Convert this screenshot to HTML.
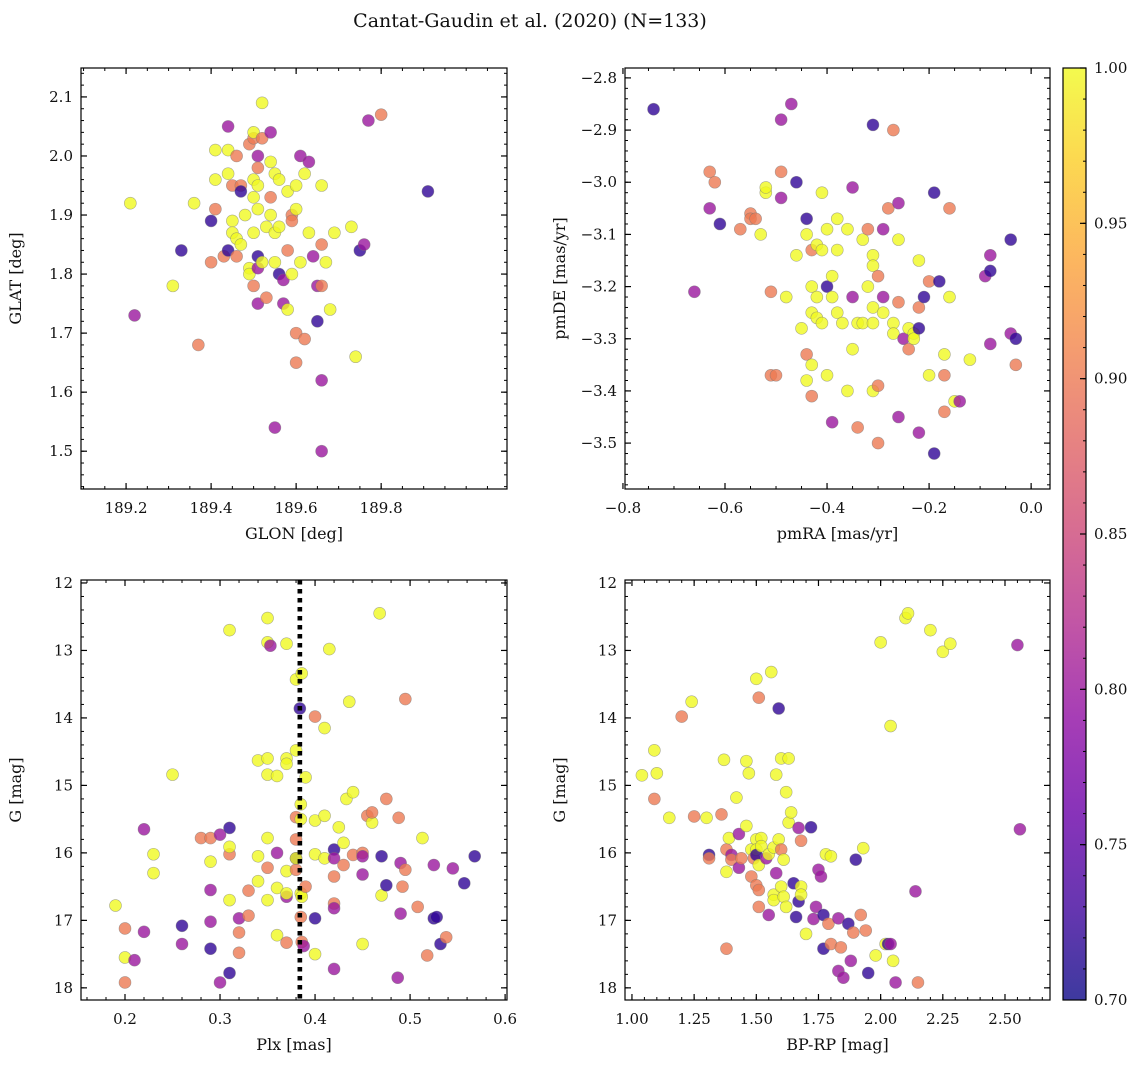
<!DOCTYPE html>
<html><head><meta charset="utf-8"><style>
body{margin:0;background:#fff;}
svg text{font-family:"DejaVu Serif","Liberation Serif",serif;fill:#111;}
</style></head><body>
<svg id="fig" width="1148" height="1067" xmlns="http://www.w3.org/2000/svg">
<defs>
<linearGradient id="plasma" x1="0" y1="1" x2="0" y2="0">
<stop offset="0" stop-color="#0d0887"/><stop offset="0.1" stop-color="#41049d"/><stop offset="0.2" stop-color="#6a00a8"/><stop offset="0.3" stop-color="#8f0da4"/><stop offset="0.4" stop-color="#b12a90"/><stop offset="0.5" stop-color="#cc4778"/><stop offset="0.6" stop-color="#e16462"/><stop offset="0.7" stop-color="#f2844b"/><stop offset="0.8" stop-color="#fca636"/><stop offset="0.9" stop-color="#fcce25"/><stop offset="1" stop-color="#f0f921"/>
</linearGradient>
</defs>
<text x="530" y="27" text-anchor="middle" font-size="19">Cantat-Gaudin et al. (2020) (N=133)</text>
</svg>
<script>
const Y=1,O=0.9,M=0.8,D=0.72;
const panel1Points=[[189.21,1.92,Y],[189.22,1.73,M],[189.31,1.78,Y],[189.33,1.84,D],[189.36,1.92,Y],[189.37,1.68,O],[189.40,1.89,D],[189.40,1.82,O],[189.41,2.01,Y],[189.41,1.96,Y],[189.41,1.91,O],[189.43,1.83,O],[189.44,2.05,M],[189.44,1.97,Y],[189.44,2.01,Y],[189.44,1.84,D],[189.45,1.95,O],[189.45,1.89,Y],[189.45,1.87,Y],[189.46,2.00,O],[189.46,1.86,Y],[189.46,1.83,O],[189.47,1.95,O],[189.47,1.94,D],[189.47,1.85,Y],[189.48,1.90,Y],[189.49,2.02,O],[189.49,1.81,Y],[189.49,1.80,Y],[189.50,2.03,O],[189.50,2.04,Y],[189.50,1.96,Y],[189.50,1.93,Y],[189.50,1.87,Y],[189.50,1.78,O],[189.51,2.00,M],[189.51,1.98,O],[189.51,1.95,Y],[189.51,1.91,Y],[189.51,1.83,D],[189.51,1.81,M],[189.51,1.75,M],[189.52,2.09,Y],[189.52,2.03,O],[189.52,1.82,Y],[189.53,1.88,Y],[189.53,1.76,O],[189.54,2.04,M],[189.54,1.99,Y],[189.54,1.93,O],[189.54,1.90,Y],[189.55,1.97,Y],[189.55,1.87,Y],[189.55,1.82,Y],[189.55,1.54,M],[189.56,1.96,Y],[189.56,1.88,Y],[189.56,1.80,D],[189.57,1.79,M],[189.57,1.75,M],[189.58,1.94,Y],[189.58,1.84,O],[189.58,1.74,Y],[189.59,1.90,O],[189.59,1.89,O],[189.59,1.80,Y],[189.60,1.95,Y],[189.60,1.91,Y],[189.60,1.70,O],[189.60,1.65,O],[189.61,2.00,M],[189.61,1.82,Y],[189.62,1.97,Y],[189.62,1.69,O],[189.63,1.99,M],[189.63,1.87,Y],[189.64,1.83,M],[189.65,1.78,M],[189.65,1.72,D],[189.66,1.85,O],[189.66,1.78,O],[189.66,1.62,M],[189.66,1.50,M],[189.66,1.95,Y],[189.67,1.82,Y],[189.68,1.74,Y],[189.69,1.87,Y],[189.73,1.88,Y],[189.74,1.66,Y],[189.75,1.84,D],[189.76,1.85,M],[189.77,2.06,M],[189.80,2.07,O],[189.91,1.94,D]];
const panel2Points=[[-0.74,-2.86,D],[-0.66,-3.21,M],[-0.63,-2.98,O],[-0.63,-3.05,M],[-0.62,-3.00,O],[-0.61,-3.08,D],[-0.57,-3.09,O],[-0.55,-3.06,O],[-0.55,-3.07,O],[-0.54,-3.07,O],[-0.53,-3.10,Y],[-0.52,-3.02,Y],[-0.52,-3.01,Y],[-0.51,-3.21,O],[-0.51,-3.37,O],[-0.50,-3.37,O],[-0.49,-2.88,M],[-0.49,-2.98,O],[-0.49,-3.03,M],[-0.48,-3.22,Y],[-0.47,-2.85,M],[-0.46,-3.00,D],[-0.46,-3.14,Y],[-0.45,-3.28,Y],[-0.44,-3.07,D],[-0.44,-3.10,Y],[-0.44,-3.33,O],[-0.44,-3.38,Y],[-0.43,-3.13,O],[-0.43,-3.20,Y],[-0.43,-3.25,Y],[-0.43,-3.35,Y],[-0.43,-3.41,O],[-0.42,-3.12,Y],[-0.42,-3.22,Y],[-0.42,-3.26,Y],[-0.41,-3.02,Y],[-0.41,-3.13,Y],[-0.41,-3.27,Y],[-0.40,-3.09,Y],[-0.40,-3.37,Y],[-0.40,-3.20,D],[-0.39,-3.18,Y],[-0.39,-3.22,Y],[-0.39,-3.46,M],[-0.38,-3.07,Y],[-0.38,-3.13,Y],[-0.38,-3.25,Y],[-0.37,-3.27,Y],[-0.36,-3.09,Y],[-0.36,-3.40,Y],[-0.35,-3.01,M],[-0.35,-3.22,M],[-0.35,-3.32,Y],[-0.34,-3.27,Y],[-0.34,-3.47,O],[-0.33,-3.27,Y],[-0.33,-3.11,Y],[-0.32,-3.09,O],[-0.32,-3.20,Y],[-0.31,-2.89,D],[-0.31,-3.14,Y],[-0.31,-3.16,Y],[-0.31,-3.24,Y],[-0.31,-3.27,Y],[-0.31,-3.40,Y],[-0.30,-3.50,O],[-0.30,-3.39,O],[-0.30,-3.18,O],[-0.29,-3.22,M],[-0.29,-3.25,Y],[-0.29,-3.09,M],[-0.28,-3.05,O],[-0.27,-2.90,O],[-0.27,-3.27,Y],[-0.27,-3.29,Y],[-0.26,-3.04,M],[-0.26,-3.11,Y],[-0.26,-3.23,O],[-0.26,-3.45,M],[-0.25,-3.30,M],[-0.24,-3.28,Y],[-0.24,-3.32,O],[-0.23,-3.29,Y],[-0.23,-3.30,Y],[-0.22,-3.15,Y],[-0.22,-3.24,O],[-0.22,-3.28,D],[-0.22,-3.48,M],[-0.21,-3.22,D],[-0.20,-3.19,O],[-0.20,-3.37,Y],[-0.19,-3.02,D],[-0.18,-3.19,D],[-0.17,-3.44,O],[-0.17,-3.33,Y],[-0.17,-3.37,O],[-0.16,-3.05,O],[-0.16,-3.22,Y],[-0.15,-3.42,Y],[-0.14,-3.42,M],[-0.12,-3.34,Y],[-0.09,-3.18,M],[-0.08,-3.14,M],[-0.08,-3.17,D],[-0.08,-3.31,M],[-0.04,-3.29,M],[-0.04,-3.11,D],[-0.03,-3.30,D],[-0.03,-3.35,O],[-0.19,-3.52,D]];
const panel3Points=[[0.19,16.78,Y],[0.20,17.55,Y],[0.20,17.12,O],[0.20,17.92,O],[0.21,17.59,M],[0.22,17.17,M],[0.22,15.65,M],[0.23,16.02,Y],[0.23,16.30,Y],[0.25,14.84,Y],[0.26,17.08,D],[0.26,17.35,M],[0.28,15.78,O],[0.29,17.42,D],[0.29,16.13,Y],[0.29,16.55,M],[0.29,17.02,M],[0.29,15.78,O],[0.30,15.73,M],[0.30,17.92,M],[0.31,16.02,O],[0.31,15.91,Y],[0.31,16.70,Y],[0.31,15.63,D],[0.31,17.78,D],[0.31,12.70,Y],[0.32,17.48,O],[0.32,16.97,M],[0.32,17.18,O],[0.33,16.93,O],[0.33,16.56,O],[0.34,14.63,Y],[0.34,16.05,Y],[0.34,16.42,Y],[0.35,12.52,Y],[0.35,12.88,Y],[0.353,12.93,M],[0.35,14.60,Y],[0.35,14.84,Y],[0.35,15.78,Y],[0.35,16.22,O],[0.35,16.70,Y],[0.36,14.86,Y],[0.36,16.00,M],[0.36,16.52,Y],[0.36,17.22,Y],[0.37,12.90,Y],[0.37,14.60,Y],[0.37,16.27,Y],[0.37,16.65,M],[0.37,17.33,O],[0.37,16.60,Y],[0.37,14.68,Y],[0.38,13.43,Y],[0.38,14.48,Y],[0.38,15.47,O],[0.38,15.80,O],[0.38,16.25,O],[0.38,16.08,D],[0.384,13.86,D],[0.38,16.08,Y],[0.386,13.34,Y],[0.385,15.28,Y],[0.385,15.50,Y],[0.385,16.60,Y],[0.386,16.65,Y],[0.385,16.95,O],[0.386,17.32,O],[0.388,17.38,M],[0.39,14.88,Y],[0.39,16.50,O],[0.40,13.98,O],[0.40,15.52,Y],[0.40,16.02,Y],[0.40,16.97,D],[0.40,17.50,Y],[0.41,14.15,Y],[0.41,16.08,Y],[0.41,15.45,Y],[0.415,12.98,Y],[0.42,15.95,D],[0.42,16.08,M],[0.42,16.35,O],[0.42,16.75,O],[0.42,16.82,M],[0.42,17.72,M],[0.425,15.62,Y],[0.43,15.85,Y],[0.43,16.18,O],[0.433,15.20,Y],[0.44,16.03,O],[0.436,13.76,Y],[0.44,15.10,Y],[0.45,16.00,O],[0.45,16.05,M],[0.45,16.32,M],[0.45,17.35,Y],[0.455,15.45,O],[0.46,15.55,Y],[0.46,15.40,O],[0.468,12.45,Y],[0.47,16.05,D],[0.47,16.63,Y],[0.475,15.20,O],[0.475,16.48,D],[0.488,15.48,O],[0.49,16.15,M],[0.492,16.50,O],[0.49,16.90,M],[0.487,17.85,M],[0.495,13.72,O],[0.495,16.25,O],[0.508,16.80,O],[0.513,15.78,Y],[0.518,17.52,O],[0.525,16.18,M],[0.525,16.97,D],[0.528,16.95,D],[0.532,17.35,D],[0.538,17.25,O],[0.545,16.23,M],[0.557,16.45,D],[0.568,16.05,D]];
const panel4Points=[[1.04,14.85,Y],[1.09,14.48,Y],[1.09,15.20,O],[1.10,14.82,Y],[1.15,15.48,Y],[1.20,13.98,O],[1.24,13.76,Y],[1.25,15.46,O],[1.30,15.48,Y],[1.31,16.03,D],[1.31,16.08,O],[1.36,15.43,O],[1.37,14.62,Y],[1.38,15.95,O],[1.38,17.42,O],[1.38,16.28,Y],[1.39,15.78,Y],[1.40,16.03,M],[1.40,16.10,O],[1.42,15.18,Y],[1.43,16.22,M],[1.43,15.72,M],[1.44,16.08,O],[1.46,14.64,Y],[1.46,15.60,Y],[1.47,14.82,Y],[1.48,16.35,O],[1.48,15.95,Y],[1.49,16.08,O],[1.50,13.42,Y],[1.50,15.80,Y],[1.50,15.95,Y],[1.50,16.03,D],[1.50,16.48,O],[1.51,16.55,O],[1.51,16.80,O],[1.51,13.70,O],[1.51,16.18,Y],[1.52,15.78,Y],[1.52,15.90,Y],[1.54,16.08,M],[1.55,16.02,Y],[1.55,16.92,M],[1.56,13.32,Y],[1.57,15.92,Y],[1.57,16.62,Y],[1.57,16.70,Y],[1.58,14.84,Y],[1.58,16.30,M],[1.59,13.86,D],[1.59,15.80,Y],[1.60,14.60,Y],[1.60,15.95,O],[1.60,16.50,Y],[1.61,16.10,Y],[1.61,16.65,Y],[1.62,15.10,Y],[1.62,16.80,Y],[1.63,14.60,Y],[1.63,15.55,Y],[1.64,15.40,Y],[1.65,16.45,D],[1.66,16.95,D],[1.67,16.72,D],[1.67,15.63,M],[1.68,15.82,O],[1.68,16.50,Y],[1.68,16.62,Y],[1.70,17.20,Y],[1.72,15.62,D],[1.73,16.98,M],[1.74,16.80,M],[1.75,16.25,M],[1.76,16.35,M],[1.77,16.92,D],[1.77,17.42,D],[1.78,16.02,Y],[1.79,17.05,O],[1.80,16.05,Y],[1.80,17.35,O],[1.83,17.75,M],[1.83,16.97,M],[1.84,17.40,O],[1.85,17.85,M],[1.87,17.05,D],[1.88,17.60,M],[1.89,17.18,O],[1.90,16.10,D],[1.92,16.92,O],[1.93,15.93,Y],[1.94,17.15,O],[1.95,17.78,D],[1.98,17.52,Y],[2.00,12.88,Y],[2.02,17.35,Y],[2.03,17.35,D],[2.04,14.12,Y],[2.04,17.35,M],[2.05,17.60,Y],[2.06,17.92,M],[2.10,12.52,Y],[2.11,12.45,Y],[2.14,16.57,M],[2.15,17.92,O],[2.20,12.70,Y],[2.25,13.02,Y],[2.28,12.90,Y],[2.55,12.92,M],[2.56,15.65,M]];
const panel1XTicks=[189.2,189.4,189.6,189.8];
const panel1YTicks=[1.5,1.6,1.7,1.8,1.9,2.0,2.1];
const panel2XTicks=[-0.8,-0.6,-0.4,-0.2,0.0];
const panel2YTicks=[-3.5,-3.4,-3.3,-3.2,-3.1,-3.0,-2.9,-2.8];
const panel3XTicks=[0.2,0.3,0.4,0.5,0.6];
const cmdYTicks=[12,13,14,15,16,17,18];
const panel4XTicks=[1.00,1.25,1.50,1.75,2.00,2.25,2.50];
const colorbarTicks=[0.70,0.75,0.80,0.85,0.90,0.95,1.00];
const plxLine=[0.384];

const NS="http://www.w3.org/2000/svg";
const svg=document.getElementById('fig');
function mk(tag,attrs,parent){const e=document.createElementNS(NS,tag);for(const k in attrs)e.setAttribute(k,attrs[k]);(parent||svg).appendChild(e);return e;}
const stops=[[0,[13,8,135]],[0.1,[65,4,157]],[0.2,[106,0,168]],[0.3,[143,13,164]],[0.4,[177,42,144]],[0.5,[204,71,120]],[0.6,[225,100,98]],[0.7,[242,132,75]],[0.8,[252,166,54]],[0.9,[252,206,37]],[1,[240,249,33]]];
function plasma(p){let t=Math.max(0,Math.min(1,(p-0.7)/0.3));for(let i=0;i<stops.length-1;i++){const a=stops[i],b=stops[i+1];if(t<=b[0]){const f=(t-a[0])/(b[0]-a[0]);const c=a[1].map((v,j)=>Math.round(v+(b[1][j]-v)*f));return `rgb(${c})`;}}return 'rgb(240,249,33)';}
function fmt(v,d){return (v<0?'\u2212':'')+Math.abs(v).toFixed(d);}

function panel(cfg){
  const {name,L,T,R,B,x0,x1,y0,y1,xt,yt,xm,ym,xd,yd,pts,xlabel,ylabel,invY}=cfg;
  const g=mk('g',{},svg);
  
  
  const sx=v=>L+(v-x0)/(x1-x0)*(R-L);
  const sy=v=>invY? T+(v-y0)/(y1-y0)*(B-T) : B-(v-y0)/(y1-y0)*(B-T);
  // minor ticks
  const mx0=Math.ceil(x0/xm-1e-6);
  for(let k=mx0;k*xm<=x1+1e-9;k++){const x=sx(k*xm);mk('line',{x1:x,x2:x,y1:B,y2:B-3,stroke:'#000','stroke-width':1},g);mk('line',{x1:x,x2:x,y1:T,y2:T+3,stroke:'#000','stroke-width':1},g);}
  const my0=Math.ceil(Math.min(y0,y1)/ym-1e-6);
  for(let k=my0;k*ym<=Math.max(y0,y1)+1e-9;k++){const y=sy(k*ym);mk('line',{x1:L,x2:L+3,y1:y,y2:y,stroke:'#000','stroke-width':1},g);mk('line',{x1:R,x2:R-3,y1:y,y2:y,stroke:'#000','stroke-width':1},g);}
  xt.forEach(v=>{const x=sx(v);mk('line',{x1:x,x2:x,y1:B,y2:B-6,stroke:'#000','stroke-width':1.2},g);mk('line',{x1:x,x2:x,y1:T,y2:T+6,stroke:'#000','stroke-width':1.2},g);
    const t=mk('text',{x:x,y:B+24,'text-anchor':'middle','font-size':15},g);t.textContent=fmt(v,xd);
    
    });
  yt.forEach(v=>{const y=sy(v);mk('line',{x1:L,x2:L+6,y1:y,y2:y,stroke:'#000','stroke-width':1.2},g);mk('line',{x1:R,x2:R-6,y1:y,y2:y,stroke:'#000','stroke-width':1.2},g);
    const t=mk('text',{x:L-8,y:y+5,'text-anchor':'end','font-size':15},g);t.textContent=fmt(v,yd);
    
    });
  if(cfg.vline){cfg.vline.forEach(v=>{const l=mk('line',{x1:sx(v),x2:sx(v),y1:T,y2:B,stroke:'#000','stroke-width':4.5,'stroke-dasharray':'4.5 4.5'},g);
    
    });}
  pts.forEach(p=>{const c=mk('circle',{cx:sx(p[0]),cy:sy(p[1]),r:6,fill:plasma(p[2]),'fill-opacity':0.8,stroke:'#777','stroke-opacity':0.6,'stroke-width':0.6},g);
    
    });
  if(cfg.vline){cfg.vline.forEach(v=>{mk('line',{x1:sx(v),x2:sx(v),y1:T,y2:B,stroke:'#000','stroke-width':4.5,'stroke-dasharray':'4.5 4.5'},g);});}
  mk('rect',{x:L,y:T,width:R-L,height:B-T,fill:'none',stroke:'#000','stroke-width':1.2},g);
  const xl=mk('text',{x:(L+R)/2,y:B+50,'text-anchor':'middle','font-size':16},g);xl.textContent=xlabel;
  
  
  const yx=L-60, yy=(T+B)/2;
  const yl=mk('text',{x:yx,y:yy,'text-anchor':'middle','font-size':16,transform:`rotate(-90 ${yx} ${yy})`},g);yl.textContent=ylabel;
  
  
}
panel({name:'glon-glat-panel',L:81,T:68,R:507,B:489,x0:189.094,x1:190.096,y0:1.436,y1:2.149,xt:panel1XTicks,yt:panel1YTicks,xm:0.05,ym:0.02,xd:1,yd:1,pts:panel1Points,xlabel:'GLON [deg]',ylabel:'GLAT [deg]'});
panel({name:'proper-motion-panel',L:625,T:68,R:1050,B:489,x0:-0.796,x1:0.037,y0:-3.588,y1:-2.781,xt:panel2XTicks,yt:panel2YTicks,xm:0.05,ym:0.02,xd:1,yd:1,pts:panel2Points,xlabel:'pmRA [mas/yr]',ylabel:'pmDE [mas/yr]'});
panel({name:'parallax-magnitude-panel',L:81,T:580,R:507,B:1000,x0:0.1537,x1:0.602,y0:11.956,y1:18.18,xt:panel3XTicks,yt:cmdYTicks,xm:0.02,ym:0.2,xd:1,yd:0,pts:panel3Points,xlabel:'Plx [mas]',ylabel:'G [mag]',invY:true,vline:plxLine});
panel({name:'color-magnitude-panel',L:625,T:580,R:1050,B:1000,x0:0.972,x1:2.681,y0:11.956,y1:18.18,xt:panel4XTicks,yt:cmdYTicks,xm:0.05,ym:0.2,xd:2,yd:0,pts:panel4Points,xlabel:'BP-RP [mag]',ylabel:'G [mag]',invY:true});
// colorbar
const cb=mk('g',{},svg);


const cT=68,cB=1000,cL=1063,cR=1086;
mk('rect',{x:cL,y:cT,width:cR-cL,height:cB-cT,fill:'url(#plasma)','fill-opacity':0.8},cb);
const cy=v=>cB-(v-0.7)/0.3*(cB-cT);
for(let k=70;k<=100;k++){const y=cy(k/100);mk('line',{x1:cR,x2:cR-3,y1:y,y2:y,stroke:'#000'},cb);}
colorbarTicks.forEach(v=>{const y=cy(v);mk('line',{x1:cR,x2:cR-6,y1:y,y2:y,stroke:'#000','stroke-width':1.2},cb);
  const t=mk('text',{x:cR+8,y:y+5,'font-size':15},cb);t.textContent=v.toFixed(2);
  
  });
mk('rect',{x:cL,y:cT,width:cR-cL,height:cB-cT,fill:'none',stroke:'#000','stroke-width':1.2},cb);
</script>
</body></html>
